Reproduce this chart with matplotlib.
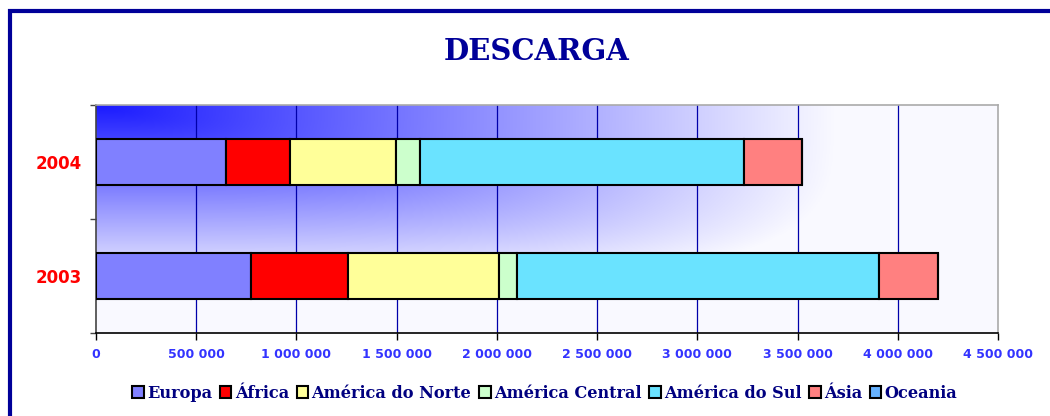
import numpy as np
import matplotlib.pyplot as plt
from matplotlib.patches import Rectangle

# data
years = ["2003", "2004"]
regions = ["Europa", "África", "América do Norte", "América Central",
           "América do Sul", "Ásia", "Oceania"]
europa = [774000, 647000]
africa = [484000, 320000]
am_norte = [752000, 532000]
am_central = [90000, 116000]
am_sul = [1808000, 1617000]
asia = [295000, 291000]
oceania = [0, 0]
colors = ["#8080FF", "#FF0000", "#FFFF99", "#CCFFCC", "#6AE3FF", "#FF8080", "#66B2FF"]

series = [europa, africa, am_norte, am_central, am_sul, asia, oceania]

fig = plt.figure(figsize=(10.5, 4.16), dpi=100)
ax = fig.add_axes([96 / 1050, 1 - 333 / 416, 902 / 1050, 228 / 416])

xmax = 4500000
# background gradient from the top-left corner
nx, ny = 400, 200
gx, gy = np.meshgrid(np.linspace(0, 1, nx), np.linspace(0, 1, ny))
t = ((gx / 0.82) ** 4 + (gy / 0.8) ** 4) ** 0.25
t = np.clip(t, 0, 1) * 0.975
blue = np.array([26, 26, 255]) / 255
img = blue + t[..., None] * (1 - blue)
ax.imshow(img, extent=(0, xmax, -0.5, 1.5), origin="upper", aspect="auto", zorder=0)

for x in range(500000, xmax, 500000):
    ax.axvline(x, color="#0000AA", lw=0.9, zorder=1)

ypos = np.arange(len(years))
left = np.zeros(len(years))
for name, vals, c in zip(regions, series, colors):
    ax.barh(ypos, vals, left=left, height=0.4, color=c, edgecolor="black",
            linewidth=1.5, zorder=3, label=name)
    left += np.array(vals)

ax.set_xlim(0, xmax)
ax.set_ylim(-0.5, 1.5)
ax.set_xticks(range(0, xmax + 1, 500000))
ax.set_xticklabels([f"{v:,}".replace(",", " ") for v in range(0, xmax + 1, 500000)])
ax.set_yticks(ypos)
ax.set_yticklabels(years)
ax.set_yticks([-0.5, 0.5, 1.5], minor=True)
ax.tick_params(axis="y", which="major", length=0, pad=10)
ax.tick_params(axis="y", which="minor", length=4, width=1, color="#444444")
ax.tick_params(axis="x", length=5, width=1, pad=6, colors="black")
for lab in ax.get_xticklabels():
    lab.set_color("#3333FF")
    lab.set_fontweight("bold")
    lab.set_fontsize(9)
for lab in ax.get_yticklabels():
    lab.set_color("#FF0000")
    lab.set_fontweight("bold")
    lab.set_fontsize(12)

ax.spines["left"].set_color("#444444")
ax.spines["bottom"].set_color("black")
ax.spines["top"].set_color("#AAAAAA")
ax.spines["right"].set_color("#AAAAAA")
for s in ax.spines.values():
    s.set_linewidth(1.2)

fig.text(0.511, 1 - 52 / 416, "DESCARGA", ha="center", va="center",
         family="DejaVu Serif", fontweight="bold", fontsize=21, color="#000099")

handles = [Rectangle((0, 0), 1, 1, facecolor=c, edgecolor="black", linewidth=1.5)
           for c in colors]
fig.legend(handles, regions, loc="center", bbox_to_anchor=(0.519, 1 - 393 / 416),
           ncol=7, frameon=False, handlelength=0.7, handleheight=0.7,
           handletextpad=0.2, columnspacing=0.5,
           prop={"family": "DejaVu Serif", "weight": "bold", "size": 11.6},
           labelcolor="#000080")

fig.patches.append(Rectangle((9.5 / 1050, -0.2), 1.5, 1.2 - 10.5 / 416,
                             transform=fig.transFigure, fill=False,
                             edgecolor="#000099", linewidth=3))

fig.savefig("out.png", dpi=100)
